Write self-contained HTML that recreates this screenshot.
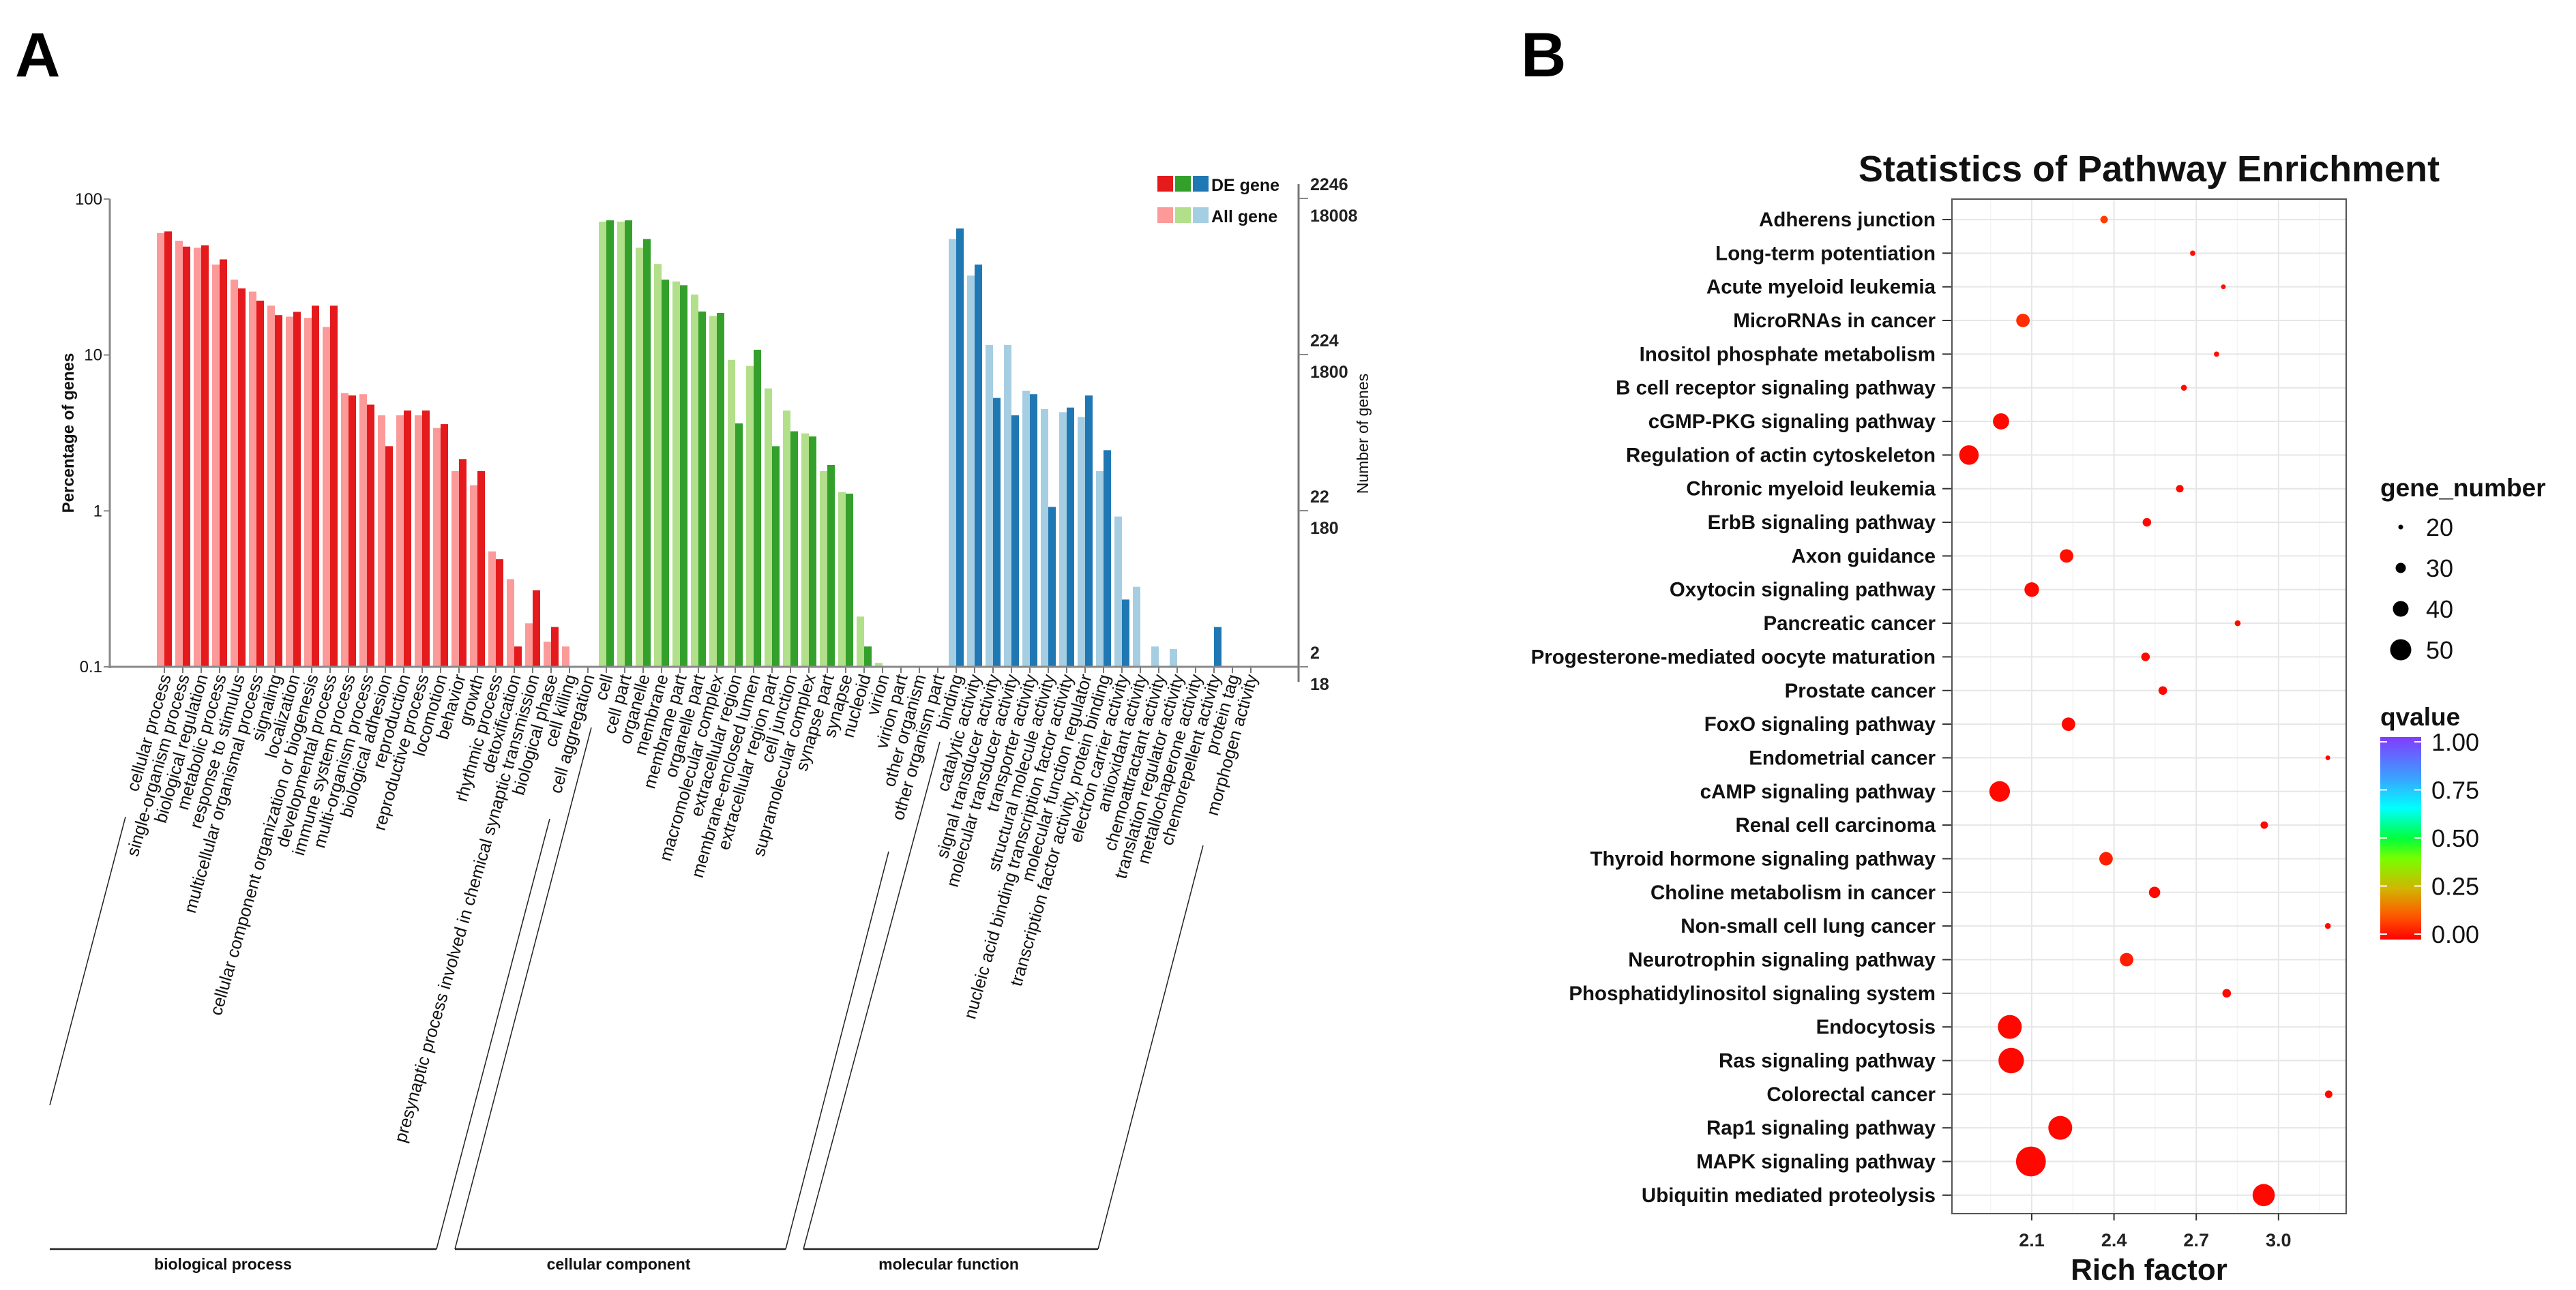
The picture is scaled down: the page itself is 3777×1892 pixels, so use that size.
<!DOCTYPE html>
<html><head><meta charset="utf-8"><style>
html,body{margin:0;padding:0;background:#fff;}
svg{display:block;font-family:"Liberation Sans",Arial,sans-serif;}
</style></head><body>
<svg id="fig" width="3777" height="1892" viewBox="0 0 3777 1892" xmlns="http://www.w3.org/2000/svg">
<text x="22" y="112" font-size="92" font-weight="bold">A</text>
<text x="2230" y="112" font-size="92" font-weight="bold">B</text>
<g id="panelA"></g>
<g id="panelB"></g>
</svg>
<script>
// ---------- Panel A data ----------
const goCategories = ["cellular process","single-organism process","biological regulation","metabolic process","response to stimulus","multicellular organismal process","signaling","localization","cellular component organization or biogenesis","developmental process","immune system process","multi-organism process","biological adhesion","reproduction","reproductive process","locomotion","behavior","growth","rhythmic process","detoxification","presynaptic process involved in chemical synaptic transmission","biological phase","cell killing","cell aggregation",
"cell","cell part","organelle","membrane","membrane part","organelle part","macromolecular complex","extracellular region","membrane-enclosed lumen","extracellular region part","cell junction","supramolecular complex","synapse part","synapse","nucleoid","virion","virion part","other organism","other organism part",
"binding","catalytic activity","signal transducer activity","molecular transducer activity","transporter activity","structural molecule activity","nucleic acid binding transcription factor activity","molecular function regulator","transcription factor activity, protein binding","electron carrier activity","antioxidant activity","chemoattractant activity","translation regulator activity","metallochaperone activity","chemorepellent activity","protein tag","morphogen activity"];
const goGroup = [0,0,0,0,0,0,0,0,0,0,0,0,0,0,0,0,0,0,0,0,0,0,0,0,
1,1,1,1,1,1,1,1,1,1,1,1,1,1,1,1,1,1,1,
2,2,2,2,2,2,2,2,2,2,2,2,2,2,2,2,2];
const allGenePct = [60.5,54,48.7,38,30.4,25.5,20.7,17.6,17.3,15.1,5.7,5.6,4.1,4.1,4.1,3.4,1.8,1.46,0.55,0.365,0.19,0.145,0.135,null,
71.6,71.6,48.7,38.3,29.6,24.4,17.8,9.3,8.5,6.1,4.4,3.14,1.8,1.32,0.21,0.106,null,null,null,
55.4,32.3,11.6,11.6,5.9,4.5,4.3,4.0,1.8,0.92,0.326,0.135,0.13,null,null,null,null];
const deGenePct = [62,49.5,50.5,41,26.7,22.3,18,18.9,20.7,20.7,5.5,4.8,2.6,4.4,4.4,3.6,2.15,1.8,0.49,0.135,0.31,0.18,null,null,
73,73,55.4,30.4,28,19,18.6,3.64,10.8,2.6,3.24,3.0,1.97,1.29,0.135,null,null,null,null,
64.7,38,5.3,4.1,5.6,1.06,4.6,5.5,2.45,0.27,null,null,null,null,0.18,null,null];
const leftTicks = [100,10,1,0.1];
const leftTickLabels = ["100","10","1","0.1"];
const rightTickTop = ["2246","224","22","2"];
const rightTickBottom = ["18008","1800","180","18"];
const groupNames = ["biological process","cellular component","molecular function"];

// ---------- Panel B data ----------
const pathways = ["Adherens junction","Long-term potentiation","Acute myeloid leukemia","MicroRNAs in cancer","Inositol phosphate metabolism","B cell receptor signaling pathway","cGMP-PKG signaling pathway","Regulation of actin cytoskeleton","Chronic myeloid leukemia","ErbB signaling pathway","Axon guidance","Oxytocin signaling pathway","Pancreatic cancer","Progesterone-mediated oocyte maturation","Prostate cancer","FoxO signaling pathway","Endometrial cancer","cAMP signaling pathway","Renal cell carcinoma","Thyroid hormone signaling pathway","Choline metabolism in cancer","Non-small cell lung cancer","Neurotrophin signaling pathway","Phosphatidylinositol signaling system","Endocytosis","Ras signaling pathway","Colorectal cancer","Rap1 signaling pathway","MAPK signaling pathway","Ubiquitin mediated proteolysis"];
const richFactor = [2.364,2.687,2.799,2.068,2.774,2.655,1.988,1.871,2.640,2.520,2.227,2.100,2.851,2.515,2.578,2.234,3.180,1.983,2.948,2.371,2.548,3.180,2.446,2.811,2.020,2.025,3.183,2.204,2.097,2.946];
const geneNumber = [25,21,20,36,21,22,41,47,25,27,36,38,22,27,27,36,20,49,25,36,32,22,36,27,55,58,25,55,66,52];
const qValue = [0.08,0.02,0.02,0.06,0.02,0.01,0.01,0.01,0.01,0.01,0.02,0.01,0.01,0.01,0.01,0.01,0.01,0.01,0.01,0.04,0.01,0.01,0.04,0.01,0.01,0.01,0.01,0.01,0.01,0.01];
const xTicks = [2.1,2.4,2.7,3.0];
const xTickLabels = ["2.1","2.4","2.7","3.0"];
const sizeLegend = [20,30,40,50];
const qLegend = ["1.00","0.75","0.50","0.25","0.00"];

const NS="http://www.w3.org/2000/svg";
function mk(parent,tag,attrs,text){const e=document.createElementNS(NS,tag);for(const k in attrs)e.setAttribute(k,attrs[k]);if(text!==undefined)e.textContent=text;parent.appendChild(e);return e;}

// ---------- Panel A ----------
const A=document.getElementById('panelA');
const yA=v=>978-(Math.log10(v)+1)*228.7;
const xA=i=>230+i*27;
const deCol=["#e41a1c","#33a02c","#1f78b4"], allCol=["#fb9a99","#b2df8a","#a6cee3"];
for(let i=0;i<goCategories.length;i++){
  const g=goGroup[i];
  if(allGenePct[i]!=null){
    const b=mk(A,'rect',{x:xA(i),y:yA(allGenePct[i]),width:11,height:978-yA(allGenePct[i]),fill:allCol[g]});
    
    
  }
  if(deGenePct[i]!=null){
    const b=mk(A,'rect',{x:xA(i)+11,y:yA(deGenePct[i]),width:11,height:978-yA(deGenePct[i]),fill:deCol[g]});
    
    
  }
  mk(A,'line',{x1:xA(i)+11,y1:978,x2:xA(i)+11,y2:987,stroke:'#777','stroke-width':2});
  const ax=xA(i)+21, ay=992;
  const t=mk(A,'text',{x:ax,y:ay,'font-size':25.5,'text-anchor':'end',transform:`rotate(-74 ${ax} ${ay})`,fill:'#111'},goCategories[i]);
  
  
}
// axes
mk(A,'line',{x1:161,y1:292,x2:161,y2:980,stroke:'#888','stroke-width':3});
mk(A,'line',{x1:159,y1:978,x2:1905,y2:978,stroke:'#888','stroke-width':3});
leftTicks.forEach((v,k)=>{
  mk(A,'line',{x1:152,y1:yA(v),x2:161,y2:yA(v),stroke:'#888','stroke-width':2});
  const t=mk(A,'text',{x:150,y:yA(v)+8,'font-size':24,'text-anchor':'end',fill:'#111'},leftTickLabels[k]);
  
  
});
const yt=mk(A,'text',{x:0,y:0,'font-size':24,'font-weight':'bold','text-anchor':'middle',transform:'translate(108 635) rotate(-90)',fill:'#111'},'Percentage of genes');


// right axis
mk(A,'line',{x1:1904,y1:270,x2:1904,y2:1000,stroke:'#777','stroke-width':3});
[291,520,749,978].forEach((y,k)=>{
  mk(A,'line',{x1:1904,y1:y,x2:1918,y2:y,stroke:'#888','stroke-width':2});
  const a=mk(A,'text',{x:1921,y:y-12,'font-size':25,'font-weight':'bold',fill:'#222'},rightTickTop[k]);
  
  
  const b=mk(A,'text',{x:1921,y:y+34,'font-size':25,'font-weight':'bold',fill:'#222'},rightTickBottom[k]);
  
  
});
const rt=mk(A,'text',{x:0,y:0,'font-size':23,'text-anchor':'middle',transform:'translate(2006 636) rotate(-90)',fill:'#111'},'Number of genes');


// legend
[1697,1723,1749].forEach((x,k)=>{
  mk(A,'rect',{x:x,y:258,width:23,height:23,fill:deCol[k]});
  mk(A,'rect',{x:x,y:304,width:23,height:23,fill:allCol[k]});
});
const l1=mk(A,'text',{x:1776,y:280,'font-size':25,'font-weight':'bold',fill:'#111'},'DE gene');


const l2=mk(A,'text',{x:1776,y:326,'font-size':25,'font-weight':'bold',fill:'#111'},'All gene');


// group brackets
const brackets=[[73,1621,184,1198,640,806,1201],[667,1832,867,1067,1152,1303,1249],[1178,1832,1378,1088,1610,1764,1240]];
const gx=[327,907,1391];
brackets.forEach((b,k)=>{
  mk(A,'line',{x1:b[0],y1:b[1],x2:b[2],y2:b[3],stroke:'#222','stroke-width':1.5});
  mk(A,'line',{x1:(k==0?73:b[0]),y1:1832,x2:b[4],y2:1832,stroke:'#222','stroke-width':2.5});
  mk(A,'line',{x1:b[4],y1:1832,x2:b[5],y2:b[6],stroke:'#222','stroke-width':1.5});
  const t=mk(A,'text',{x:gx[k],y:1862,'font-size':23,'font-weight':'bold','text-anchor':'middle',fill:'#111'},groupNames[k]);
  
  
});

// ---------- Panel B ----------
const B=document.getElementById('panelB');
const L=2862,R=3440,T=292,Bt=1780;
const xB=v=>2979+(v-2.1)*402;
const yB=i=>322+i*49.34;
const rB=n=>Math.max(2.5,3.5+(n-20)*0.4);
function qCol(q){const st=[[0,[255,0,0]],[0.12,[255,90,0]],[0.25,[210,180,0]],[0.4,[120,255,0]],[0.5,[0,255,60]],[0.65,[0,255,255]],[0.8,[60,160,255]],[1,[130,60,255]]];
 for(let k=1;k<st.length;k++){if(q<=st[k][0]){const a=st[k-1],b=st[k],t=(q-a[0])/(b[0]-a[0]);return 'rgb('+a[1].map((c,j)=>Math.round(c+(b[1][j]-c)*t)).join(',')+')';}}return 'rgb(130,60,255)';}
mk(B,'rect',{x:L,y:T,width:R-L,height:Bt-T,fill:'#fff'});
[1.95,2.25,2.55,2.85,3.15].forEach(v=>mk(B,'line',{x1:xB(v),y1:T,x2:xB(v),y2:Bt,stroke:'#f4f4f4','stroke-width':1.5}));
xTicks.forEach(v=>mk(B,'line',{x1:xB(v),y1:T,x2:xB(v),y2:Bt,stroke:'#e6e6e6','stroke-width':2}));
pathways.forEach((p,i)=>{
  mk(B,'line',{x1:L,y1:yB(i),x2:R,y2:yB(i),stroke:'#e6e6e6','stroke-width':2});
  mk(B,'line',{x1:L-14,y1:yB(i),x2:L,y2:yB(i),stroke:'#333','stroke-width':2});
  const t=mk(B,'text',{x:L-24,y:yB(i)+10,'font-size':29.5,'font-weight':'bold','text-anchor':'end',fill:'#111'},p);
  
  
});
pathways.forEach((p,i)=>{
  const c=mk(B,'circle',{cx:xB(richFactor[i]),cy:yB(i),r:rB(geneNumber[i]),fill:qCol(qValue[i])});
  
  
});
mk(B,'rect',{x:L,y:T,width:R-L,height:Bt-T,fill:'none',stroke:'#555','stroke-width':2});
xTicks.forEach((v,k)=>{
  mk(B,'line',{x1:xB(v),y1:Bt,x2:xB(v),y2:Bt+10,stroke:'#333','stroke-width':2});
  const t=mk(B,'text',{x:xB(v),y:1828,'font-size':27,'font-weight':'bold','text-anchor':'middle',fill:'#222'},xTickLabels[k]);
  
  
});
const xt=mk(B,'text',{x:3151,y:1877,'font-size':44,'font-weight':'bold','text-anchor':'middle',fill:'#111'},'Rich factor');


const tt=mk(B,'text',{x:3151,y:266,'font-size':54,'font-weight':'bold','text-anchor':'middle',fill:'#111'},'Statistics of Pathway Enrichment');


// size legend
const st=mk(B,'text',{x:3490,y:728,'font-size':37,'font-weight':'bold',fill:'#111'},'gene_number');


sizeLegend.forEach((n,k)=>{
  const y=773+k*60;
  const c=mk(B,'circle',{cx:3520,cy:y,r:rB(n),fill:'#000'});
  
  
  const t=mk(B,'text',{x:3557,y:y+13,'font-size':36,fill:'#111'},String(n));
  
  
});
// color legend
const qt=mk(B,'text',{x:3490,y:1064,'font-size':37,'font-weight':'bold',fill:'#111'},'qvalue');


const defs=mk(B,'defs',{});
const lg=mk(defs,'linearGradient',{id:'qgrad',x1:0,y1:1,x2:0,y2:0});
for(let k=0;k<=20;k++){mk(lg,'stop',{offset:(k/20),'stop-color':qCol(k/20)});}
const cb=mk(B,'rect',{x:3490,y:1081,width:60,height:297,fill:'url(#qgrad)'});


qLegend.forEach((s,k)=>{
  const y=1088+k*70.5;
  mk(B,'line',{x1:3490,y1:y,x2:3500,y2:y,stroke:'#fff','stroke-width':2});
  mk(B,'line',{x1:3540,y1:y,x2:3550,y2:y,stroke:'#fff','stroke-width':2});
  const t=mk(B,'text',{x:3565,y:y+13,'font-size':36,fill:'#111'},s);
  
  
});
</script>
</body></html>
